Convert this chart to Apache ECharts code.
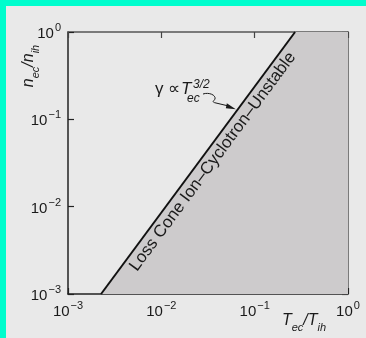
<!DOCTYPE html>
<html>
<head>
<meta charset="utf-8">
<style>
  html, body { margin: 0; padding: 0; background: #e9e9e9; }
  #chart { width: 366px; height: 338px; }
</style>
<script src="https://cdn.jsdelivr.net/npm/echarts@6/dist/echarts.min.js"></script>
</head>
<body>
<div id="chart"></div>
<script>
// Electron-to-hot-ion temperature ratio (x) and density ratio (y), both log scaled
const xTicks = [0.001, 0.01, 0.1, 1];
const yTicks = [0.001, 0.01, 0.1, 1];

// Stability boundary: n_ec/n_ih grows as (T_ec/T_ih)^(3/2)
const boundaryT = [0.00226, 0.271];
const boundaryN = [0.001, 1];

// Unstable region lies below/right of the boundary, out to T_ec/T_ih = 1
const regionT = [0.00226, 0.271, 1];
const regionN = [0.001, 1, 1];

const regionLabel = 'Loss Cone Ion\u2013Cyclotron\u2013Unstable';

const FONT = '"Liberation Sans", Arial, sans-serif';
const INK = '#1a1a1a';

function expLabel(v) {
  const e = Math.round(Math.log10(v));
  const s = e < 0 ? '\u2212' + (-e) : String(e);
  return '{b|10}{s|' + s + '}';
}

const labelRich = {
  b: { fontSize: 15, fontFamily: FONT, color: INK, lineHeight: 19, verticalAlign: 'bottom' },
  s: { fontSize: 11, fontFamily: FONT, color: INK, lineHeight: 19, verticalAlign: 'top', padding: [0, 0, 7, 1] }
};

const chart = echarts.init(document.getElementById('chart'), null, { renderer: 'canvas' });

const axisBase = {
  type: 'log',
  logBase: 10,
  min: 0.001,
  max: 1,
  splitLine: { show: false },
  minorTick: { show: false }
};

chart.setOption({
  backgroundColor: '#e9e9e9',
  animation: false,
  grid: { left: 68, top: 32, right: 18, bottom: 44 },
  xAxis: [
    Object.assign({}, axisBase, {
      position: 'bottom',
      axisLine: { show: true, lineStyle: { color: '#222', width: 1.5 } },
      axisTick: { show: true, inside: true, length: 6, lineStyle: { color: '#222', width: 1.2 } },
      axisLabel: { show: true, margin: 6, formatter: expLabel, rich: labelRich }
    }),
    Object.assign({}, axisBase, {
      position: 'top',
      axisLine: { show: true, lineStyle: { color: '#555', width: 1.5 } },
      axisTick: { show: true, inside: true, length: 6, lineStyle: { color: '#444', width: 1.2 } },
      axisLabel: { show: false }
    })
  ],
  yAxis: [
    Object.assign({}, axisBase, {
      position: 'left',
      axisLine: { show: true, lineStyle: { color: '#222', width: 1.5 } },
      axisTick: { show: true, inside: true, length: 6, lineStyle: { color: '#222', width: 1.2 } },
      axisLabel: { show: true, margin: 7, formatter: expLabel, rich: labelRich }
    }),
    Object.assign({}, axisBase, {
      position: 'right',
      axisLine: { show: true, lineStyle: { color: '#555', width: 1.5 } },
      axisTick: { show: true, inside: true, length: 6, lineStyle: { color: '#444', width: 1.2 } },
      axisLabel: { show: false }
    })
  ],
  series: [
    {
      name: 'unstable',
      type: 'line',
      data: regionT.map((t, i) => [t, regionN[i]]),
      symbol: 'none',
      lineStyle: { width: 0 },
      areaStyle: { origin: 'start', color: '#cdcbcc', opacity: 1 },
      z: 1
    },
    {
      name: 'boundary',
      type: 'line',
      data: boundaryT.map((t, i) => [t, boundaryN[i]]),
      symbol: 'none',
      lineStyle: { color: '#111', width: 2 },
      z: 3
    }
  ]
});

// Annotations placed relative to the boundary line in pixel space
const p0 = chart.convertToPixel({ xAxisIndex: 0, yAxisIndex: 0 }, [boundaryT[0], boundaryN[0]]);
const p1 = chart.convertToPixel({ xAxisIndex: 0, yAxisIndex: 0 }, [boundaryT[1], boundaryN[1]]);
const dx = p1[0] - p0[0], dy = p1[1] - p0[1];
const len = Math.hypot(dx, dy);
const ux = dx / len, uy = dy / len;          // unit vector along the line
const nx = -uy, ny = ux;                       // normal toward the region
const angle = Math.atan2(-dy, dx);             // rotation (ccw, radians)
const mid = 0.53;
const off = 11;
const lx = p0[0] + dx * mid + nx * off;
const ly = p0[1] + dy * mid + ny * off;

// Point on the boundary where the leader arrow lands
const tArrow = 0.705;
const ax = p0[0] + dx * tArrow - 2, ay = p0[1] + dy * tArrow;

const titleRich = {
  i: { font: 'italic 16px ' + FONT, fill: INK, lineHeight: 20, verticalAlign: 'top' },
  sub: { font: 'italic 11px ' + FONT, fill: INK, lineHeight: 20, verticalAlign: 'bottom', padding: [6, 0, 0, 0] }
};

chart.setOption({
  graphic: [
    // cyan frame strips
    { type: 'rect', shape: { x: 0, y: 0, width: 366, height: 6 }, style: { fill: '#00fdcd' }, z: 100 },
    { type: 'rect', shape: { x: 0, y: 0, width: 6, height: 338 }, style: { fill: '#00fdcd' }, z: 100 },
    // text along the boundary
    {
      type: 'text', x: lx, y: ly, rotation: angle,
      style: { text: regionLabel, font: '17px ' + FONT, fill: INK, align: 'center', verticalAlign: 'middle' },
      z: 10
    },
    // growth-rate annotation
    {
      type: 'text', x: 155, y: 98,
      style: { text: '\u03b3 \u221d', font: '17px ' + FONT, fill: INK, align: 'left', verticalAlign: 'bottom' },
      z: 10
    },
    {
      type: 'text', x: 181, y: 98,
      style: { text: 'T', font: 'italic 17px ' + FONT, fill: INK, align: 'left', verticalAlign: 'bottom' },
      z: 10
    },
    {
      type: 'text', x: 193, y: 91,
      style: { text: '3/2', font: 'italic 12px ' + FONT, fill: INK, align: 'left', verticalAlign: 'bottom' },
      z: 10
    },
    {
      type: 'text', x: 187, y: 105,
      style: { text: 'ec', font: 'italic 12px ' + FONT, fill: INK, align: 'left', verticalAlign: 'bottom' },
      z: 10
    },
    // wavy leader with arrowhead
    {
      type: 'bezierCurve', z: 10,
      shape: { x1: 203, y1: 94, cpx1: 209, cpy1: 92, cpx2: 216, cpy2: 95, x2: 215, y2: 99 },
      style: { fill: 'none', stroke: INK, lineWidth: 1 }
    },
    {
      type: 'bezierCurve', z: 10,
      shape: { x1: 215, y1: 99, cpx1: 214, cpy1: 101, cpx2: 211, cpy2: 102, x2: 216, y2: 103 },
      style: { fill: 'none', stroke: INK, lineWidth: 1 }
    },
    {
      type: 'line', z: 10,
      shape: { x1: 216, y1: 103, x2: ax - 6, y2: ay - 3 },
      style: { stroke: INK, lineWidth: 1 }
    },
    {
      type: 'polygon', z: 10,
      shape: { points: [[ax, ay], [ax - 9, ay - 6], [ax - 10, ay - 1]] },
      style: { fill: INK }
    },
    // axis titles
    {
      type: 'text', x: 31, y: 66, rotation: Math.PI / 2,
      style: { text: '{i|n}{sub|ec}{i|/n}{sub|ih}', align: 'center', verticalAlign: 'middle', rich: titleRich },
      z: 10
    },
    {
      type: 'text', x: 304, y: 323,
      style: { text: '{i|T}{sub|ec}{i|/T}{sub|ih}', align: 'center', verticalAlign: 'middle', rich: titleRich },
      z: 10
    }
  ]
});
</script>
</body>
</html>
